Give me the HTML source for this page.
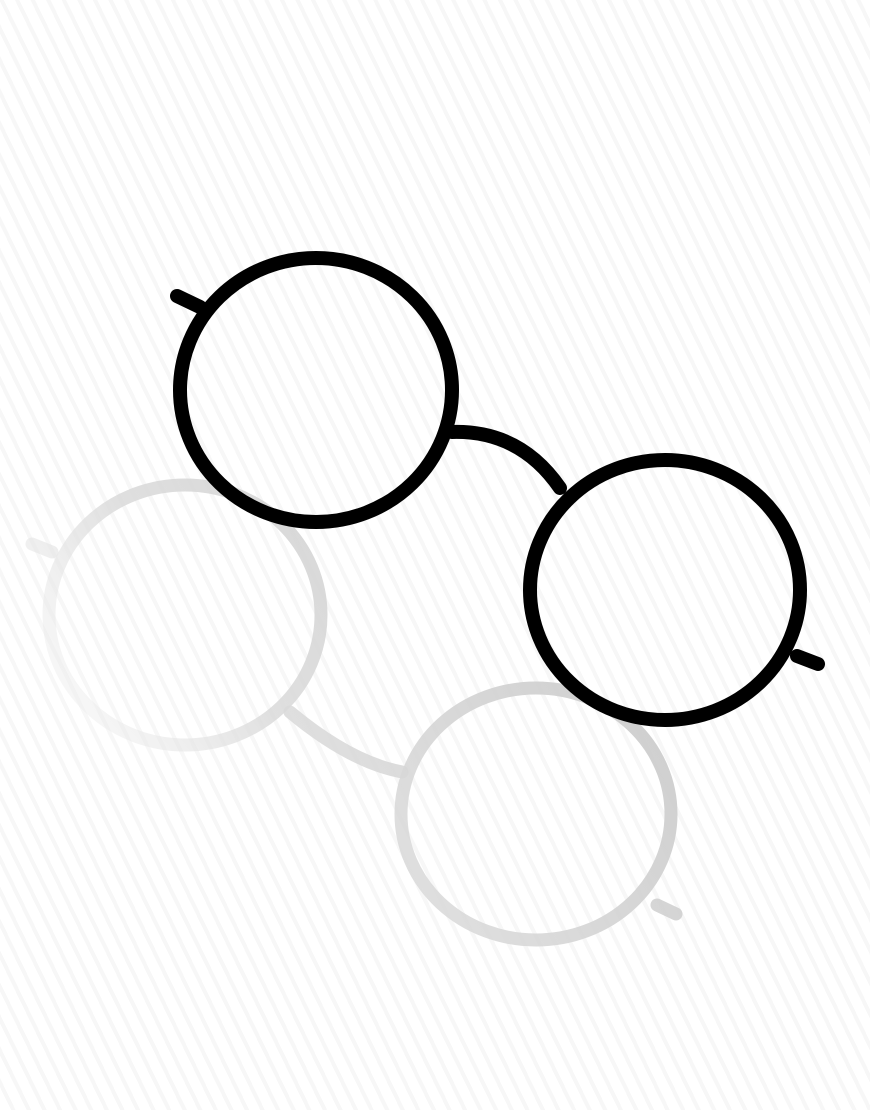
<!DOCTYPE html>
<html><head><meta charset="utf-8"><style>
html,body{margin:0;padding:0;width:870px;height:1110px;overflow:hidden;background:#fff}
#bg{position:absolute;left:0;top:0;width:870px;height:1110px;
background:repeating-linear-gradient(64deg,#ffffff 0px,#ffffff 10px,#f7f7f7 10px,#f7f7f7 14px);}
svg{position:absolute;left:0;top:0}
</style></head><body>
<div id="bg"></div>
<svg width="870" height="1110" viewBox="0 0 870 1110">
<defs>
<linearGradient id="sh" gradientUnits="userSpaceOnUse" x1="60" y1="960" x2="700" y2="500">
<stop offset="0" stop-color="#ffffff" stop-opacity="0"/>
<stop offset="0.4" stop-color="#dadada" stop-opacity="0.85"/>
<stop offset="1" stop-color="#c6c6c6"/>
</linearGradient>
</defs>
<g fill="none" stroke="url(#sh)" stroke-width="13" stroke-linecap="round">
<ellipse cx="185" cy="615" rx="136" ry="130"/>
<ellipse cx="536" cy="814" rx="135" ry="126"/>
<path d="M290 712 Q350 762 402 772"/>
<path d="M32 544 L52 552"/>
<path d="M657 905 L676 914"/>
</g>
<g fill="none" stroke="#000" stroke-width="14" stroke-linecap="round">
<ellipse cx="316" cy="390" rx="136" ry="132"/>
<ellipse cx="665" cy="590" rx="135" ry="130"/>
<path d="M452 432 Q520 430 560 488"/>
<path d="M177 296 L200 307"/>
<path d="M797 656 L818 664"/>
</g>
</svg>
</body></html>
